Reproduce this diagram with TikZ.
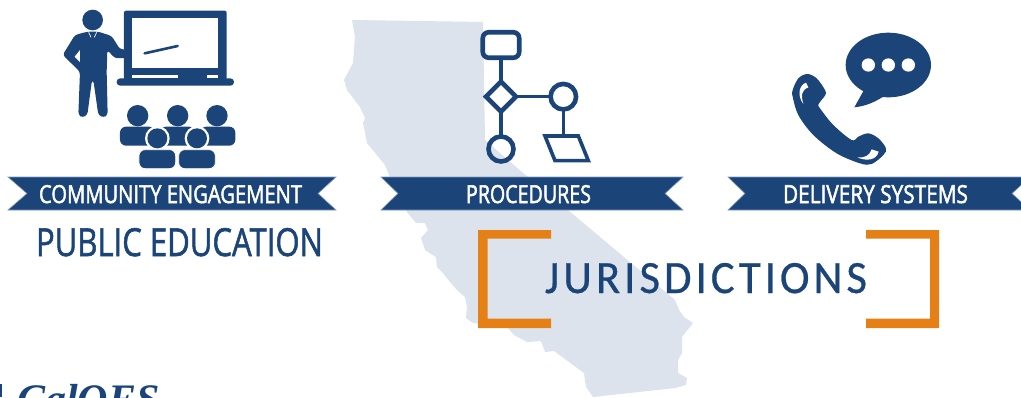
\documentclass[tikz,border=0pt]{standalone}
\usepackage{fontspec}
\setmainfont[FakeBold=1.6]{Open Sans}
\newfontfamily\ribfont[FakeBold=2.2]{Open Sans}
\newfontfamily\jurfont[LetterSpace=9,FakeBold=0.6]{Carlito}
\newfontfamily\logofont{Liberation Serif}
\usetikzlibrary{shapes.geometric}
\definecolor{navy}{HTML}{1B4479}
\definecolor{edgeblue}{HTML}{7F9BBF}
\definecolor{stateblue}{HTML}{DCE3EC}
\definecolor{bracketorange}{HTML}{E48015}
\tikzset{
  ribbon/.style={fill=navy,draw=edgeblue,line width=.6pt},
  lbl/.style={inner sep=0pt,outer sep=0pt,anchor=base west,text=navy},
  rlbl/.style={lbl,text=white},
  icon/.style={fill=navy,draw=none},
  flow/.style={draw=navy,line width=4.6pt,inner sep=0pt,outer sep=0pt,fill=none},
  flowline/.style={draw=navy,line width=3.6pt},
  bracket/.style={fill=bracketorange,draw=none},
  zoomed/.style={x=0.33333pt,y=-0.33333pt},
}
\begin{document}
\begin{tikzpicture}[x=1pt,y=-1pt]
\clip (0,0) rectangle (1021,397);
\fill[white] (0,0) rectangle (1021,397);
% state
\fill[stateblue] (352,20) -- (420,21) -- (483,22) -- (485,140) -- (523,173) -- (568,210) -- (675,300)
 -- (679,310) -- (684,317) -- (693,323) -- (682,337) -- (682,353) -- (678,360) -- (678,373) -- (687,378)
 -- (686,385) -- (675,388) -- (593,397) -- (586,387) -- (584,373) -- (554,351) -- (545,352) -- (541,341)
 -- (527,342) -- (514,335) -- (507,327) -- (473,323) -- (466,318) -- (467,307) -- (465,297) -- (457,290)
 -- (450,282) -- (443,273) -- (437,267) -- (436,257) -- (425,250) -- (421,238) -- (428,230) -- (425,223)
 -- (416,223) -- (407,212) -- (389,175) -- (385,165) -- (367,143) -- (363,123) -- (365,118) -- (360,107)
 -- (347,90) -- (344,80) -- (353,63) -- (355,37) -- cycle;
% ribbons
\path[ribbon] (8,177) -- (336,177) -- (318,193.5) -- (336,210) -- (8,210) -- (27,193.5) -- cycle;
\path[ribbon] (381,177) -- (683,177) -- (665,193.5) -- (683,210) -- (381,210) -- (398,193.5) -- cycle;
\path[ribbon] (728,177) -- (1030,177) -- (1012,193.5) -- (1030,210) -- (728,210) -- (745,193.5) -- cycle;
\node[rlbl] (t1) at (39,203) {\resizebox{263pt}{18pt}{\ribfont COMMUNITY ENGAGEMENT}};
\node[rlbl] (t2) at (466,203) {\resizebox{125pt}{18pt}{\ribfont PROCEDURES}};
\node[rlbl] (t3) at (783,203) {\resizebox{185pt}{18pt}{\ribfont DELIVERY SYSTEMS}};
\node[lbl] (t4) at (36,256) {\resizebox{287pt}{28pt}{PUBLIC EDUCATION}};
% brackets
\path[bracket] (551,230) -- (478,230) -- (478,328) -- (551,328) -- (551,318.5) -- (487.5,318.5) -- (487.5,238.5) -- (551,238.5) -- cycle;
\path[bracket] (866,230) -- (939,230) -- (939,328) -- (866,328) -- (866,318.5) -- (930,318.5) -- (930,238.5) -- (866,238.5) -- cycle;
\node[lbl] (t5) at (545,293) {\resizebox{322pt}{30pt}{\jurfont JURISDICTIONS}};
% logo
\node[lbl,text=navy] (t6) at (17,413) {\logofont\fontsize{42pt}{42pt}\selectfont\bfseries\itshape CalOES};
\fill[navy] (0,384) rectangle (1.5,397);
% presenter
\begin{scope}[zoomed]
 \fill[icon] (278,60) circle (31);
 \path[icon,rounded corners=3pt] (262,95) -- (225,105) -- (188,165) -- (240,215) -- (235,345) -- (248,353) -- (262,345) -- (276,240) -- (280,240) -- (295,345) -- (310,353) -- (323,345) -- (320,215) -- (322,150) -- (345,175) -- (412,173) -- (422,160) -- (412,148) -- (360,148) -- (335,108) -- (295,95) -- cycle;
 \fill[white] (240,150) -- (224,170) -- (240,186) -- cycle;
 \draw[white,line width=.7pt] (266,97) -- (273,112) (290,97) -- (283,112);
 \path[icon,rounded corners=2pt] (372,32) rectangle (680,240);
 \fill[white] (397,55) rectangle (655,205);
 \path[icon,rounded corners=3.5pt] (350,235) rectangle (702,257);
 \fill[white] (397,225) rectangle (535,235);
 \fill[white] (622,225) rectangle (655,235);
 \draw[navy,line width=2.6pt,line cap=round] (434,160) -- (533,138);
 % audience
 \foreach \cx in {413,533,651} {
   \fill[icon] (\cx,347) circle (32);
 }
 \path[icon,rounded corners=6pt] (360,380) rectangle (465,437);
 \path[icon,rounded corners=6pt] (480,380) rectangle (585,437);
 \path[icon,rounded corners=6pt] (601,380) rectangle (706,437);
 \foreach \cx in {472,591} {
   \fill[white] (\cx,415) circle (37);
   \fill[icon] (\cx,415) circle (30);
   \path[fill=navy,draw=white,line width=.8pt,rounded corners=6pt] (\cx-55,449) rectangle (\cx+55,506);
 }
\end{scope}
% flow chart
\begin{scope}[zoomed,xshift=340pt]
 \node[flow,rectangle,rounded corners=6pt,minimum width=36.5pt,minimum height=25.5pt] (start) at (483,135) {};
 \node[flow,diamond,minimum width=30pt,minimum height=30pt] (dec) at (483,290) {};
 \node[flow,circle,minimum size=25.5pt] (c1) at (670,290) {};
 \node[flow,circle,minimum size=25pt] (c2) at (483,447) {};
 \coordinate (p1) at (615,408);
 \coordinate (p2) at (715,408);
 \coordinate (p3) at (745,482);
 \coordinate (p4) at (645,482);
 \coordinate (ptop) at (670,408);
 \draw[draw=navy,line width=3.6pt,miter limit=4] (p1) -- (p2) -- (p3) -- (p4) -- cycle;
 \draw[flowline] (start) -- (dec);
 \draw[flowline] (dec) -- (c1);
 \draw[flowline] (dec) -- (c2);
 \draw[flowline] (c1) -- (ptop);
\end{scope}
% phone and bubble
\begin{scope}[zoomed,xshift=720pt]
 \fill[icon] (505,195) ellipse [x radius=128,y radius=97];
 \fill[icon] (432,270) -- (403,322) .. controls (440,318) and (465,305) .. (490,290) -- cycle;
 \foreach \cx in {445,505,565} { \fill[white] (\cx,195) circle (20); }
 \fill[icon] plot[smooth cycle,tension=.55] coordinates {(218,270) (235,235) (262,222) (290,235) (315,270) (316,285) (296,312) (300,325) (340,375) (395,420) (415,410) (445,400) (475,415) (498,445) (490,465) (455,492) (420,490) (350,460) (280,405) (235,345) (218,290)};
 \fill[white] (258,248) .. controls (238,255) and (230,285) .. (250,312) .. controls (242,285) and (245,270) .. (265,262) -- cycle;
 \fill[white] (412,472) .. controls (440,485) and (470,480) .. (476,455) -- (455,448) .. controls (450,465) and (435,475) .. (412,472) -- cycle;
\end{scope}
\end{tikzpicture}
\end{document}
